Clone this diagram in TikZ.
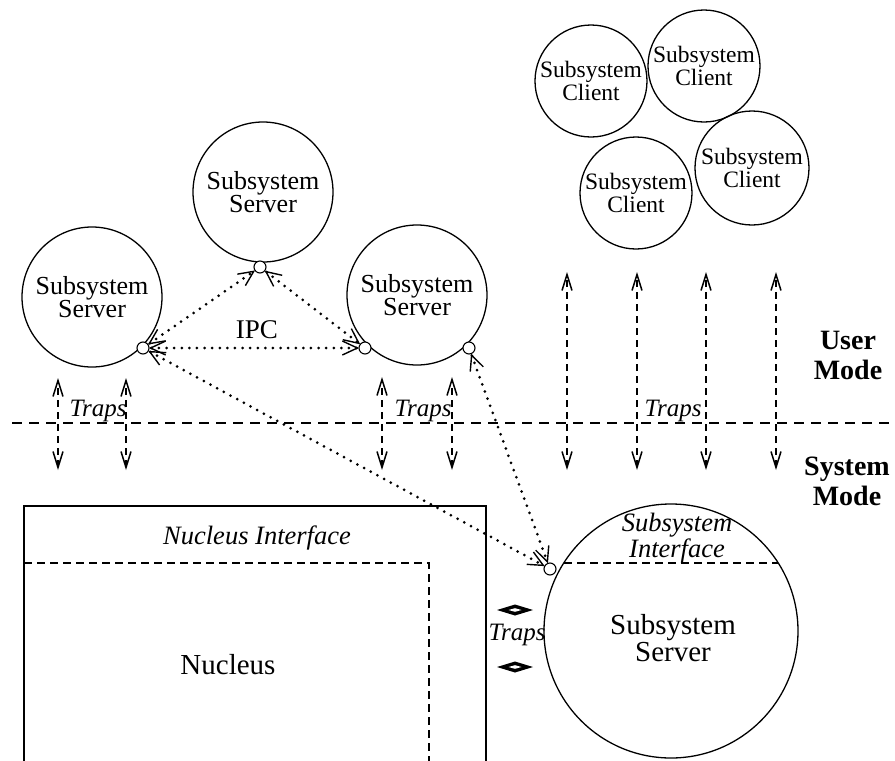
\documentclass[tikz,border=0pt]{standalone}
\usepackage{fontspec}
\setmainfont{Liberation Serif}
\usetikzlibrary{arrows.meta}
\begin{document}
\begin{tikzpicture}[x=1pt,y=-1pt,
  every node/.style={inner sep=0pt, outer sep=0pt},
  proc/.style={circle, draw, line width=1.3pt, align=center},
  server/.style={proc, minimum size=140pt, font=\fontsize{26}{23.5}\selectfont},
  client/.style={proc, minimum size=112pt, font=\fontsize{23.5}{22.5}\selectfont},
  port/.style={circle, draw, fill=white, line width=1.1pt, minimum size=12pt},
  ipctip/.style={},
  ipc/.style={line width=3pt, line cap=round, dash pattern=on 0pt off 7.6pt,
    {Straight Barb[length=15pt,width=14pt,line width=1.4pt]}-{Straight Barb[length=15pt,width=14pt,line width=1.4pt]}},
  trap/.style={line width=1.4pt, dash pattern=on 7pt off 5pt,
    {Straight Barb[length=16pt,width=10pt,line width=1.5pt]}-{Straight Barb[length=16pt,width=10pt,line width=1.5pt]}},
  traplbl/.style={font=\fontsize{25}{25}\selectfont\itshape},
  ital/.style={font=\fontsize{26.5}{23.5}\selectfont\itshape, align=center},
  mode/.style={font=\fontsize{28}{30}\selectfont\bfseries, align=center}]
\useasboundingbox (0,0) rectangle (895,761);

% user-mode subsystem servers
\node[server] (ssL) at (92,297) {Subsystem\\Server};
\node[server] (ssT) at (263,192) {Subsystem\\Server};
\node[server] (ssR) at (417,295) {Subsystem\\Server};

% subsystem clients
\node[client] (cl1) at (591,81) {Subsystem\\Client};
\node[client] (cl2) at (704,66) {Subsystem\\Client};
\node[client] (cl3) at (636,193) {Subsystem\\Client};
\node[client, minimum size=114pt] (cl4) at (752,168) {Subsystem\\Client};

% kernel-mode subsystem server
\node[proc, minimum size=254pt] (ssB) at (671,631) {};
\draw[line width=1.3pt, dash pattern=on 8pt off 5pt]
  ([shift={(-107,-68)}]ssB.center) -- ([shift={(107,-68)}]ssB.center);
\node[ital] (sbif) at (677,538) {Subsystem\\Interface};
\node[font=\fontsize{29}{23.5}\selectfont, align=center] (sbsv) at (673,638) {Subsystem\\Server};

% nucleus box
\draw[line width=1.2pt] (24,761) |- (486,506) -- (486,761);
\draw[line width=1.3pt, dash pattern=on 8pt off 5pt] (24,563) -| (429,761);
\node[ital] (nif) at (257,538) {Nucleus Interface};
\node[font=\fontsize{29}{29}\selectfont] (nuc) at (228,665) {Nucleus};

% communication ports
\node[port] (pL) at (143,348) {};
\node[port] (pT) at (260,267) {};
\node[port] (pRl) at (365,348) {};
\node[port] (pRr) at (469,348) {};
\node[port] (pB) at (550,569) {};

% IPC paths
\draw[ipc] (pL) -- (pT);
\draw[ipc] (pT) -- (pRl);
\draw[ipc] (pL) -- (pRl);
\draw[ipc] (pL) -- (pB);
\draw[ipc] (pRr) -- (pB);
\node[font=\fontsize{27}{27}\selectfont] (ipclbl) at (257,330) {IPC};

% user / system boundary
\coordinate (bl) at (12,423);
\coordinate (br) at (895,423);
\draw[line width=1.4pt, dash pattern=on 10pt off 7pt] (bl) -- (br);

% traps across the boundary
\foreach \x/\t in {58/378, 126/378, 382/377, 452/377, 567/272, 637/272, 706/272, 776/272} {
  \coordinate (up\x) at (\x,\t);
  \coordinate (dn\x) at (\x,470);
  \draw[trap] (dn\x) -- (up\x);
}
\node[traplbl] (tr1) at (98,411) {Traps};
\node[traplbl] (tr2) at (423,411) {Traps};
\node[traplbl] (tr3) at (673,411) {Traps};

% traps between nucleus and subsystem server
\foreach \y in {610,667} {
  \fill (497,\y) -- (515,\y-5.5) -- (533,\y) -- (515,\y+5.5) -- cycle;
  \fill[white] (508.5,\y) -- (515,\y-1.8) -- (521.5,\y) -- (515,\y+1.8) -- cycle;
}
\node[traplbl] (tr4) at (517,635) {Traps};

% mode labels
\node[mode] (um) at (848,355) {User\\Mode};
\node[mode] (sm) at (847,481) {System\\Mode};
\end{tikzpicture}
\end{document}
